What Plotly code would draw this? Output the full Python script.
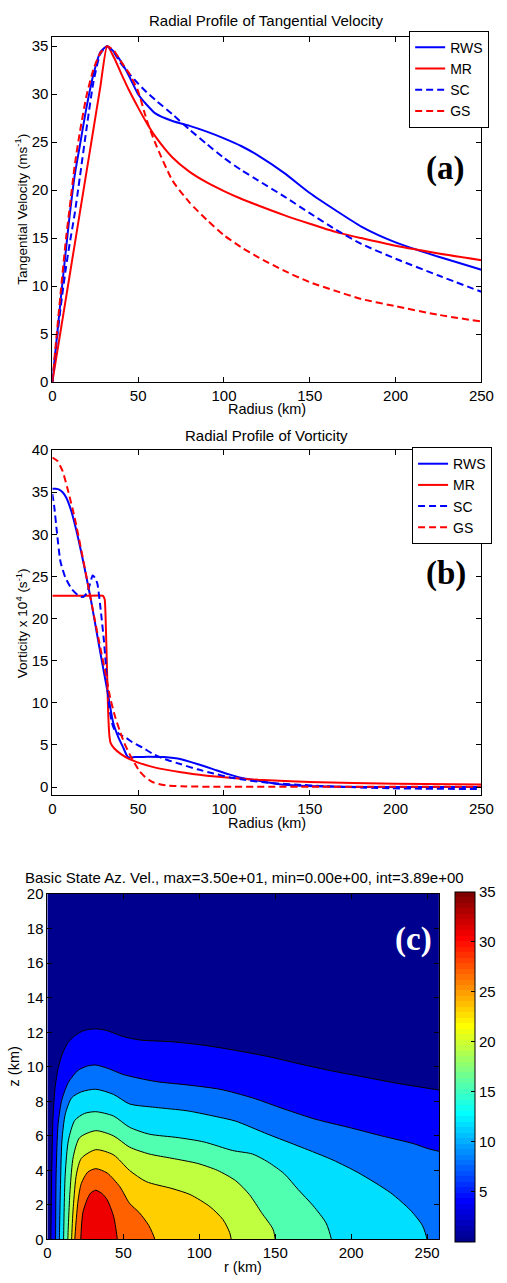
import plotly.graph_objects as go

W, H = 507, 1283

# ---------------- Panel (a): tangential velocity ----------------
r_a = [0, 2, 5, 8, 10, 13, 16, 20, 24, 28, 32, 36, 40, 45, 50, 55, 60, 70, 80, 90,
       100, 110, 120, 135, 150, 165, 180, 200, 225, 250]
v_rws = [0, 3.5, 8.8, 13.9, 17.2, 21.5, 24.6, 28.7, 32.1, 34.4, 35.0, 34.4, 33.4, 31.8, 30.0,
         28.9, 28.0, 27.2, 26.7, 26.1, 25.4, 24.6, 23.6, 21.8, 19.7, 17.9, 16.2, 14.55, 13.05, 11.7]
v_mr = [0, 2.2, 5.5, 8.8, 11.0, 14.3, 17.6, 22.0, 26.4, 30.8, 35.0, 33.8, 32.2, 30.3, 28.6,
        27.0, 25.6, 23.4, 21.9, 20.8, 19.9, 19.1, 18.4, 17.4, 16.5, 15.65, 15.0, 14.2, 13.4, 12.7]
v_sc = [0, 3.4, 8.0, 12.0, 14.3, 17.5, 21.3, 26.5, 31.3, 34.2, 35.0, 34.3, 33.2, 32.1, 31.1,
        30.2, 29.4, 27.9, 26.3, 24.8, 23.35, 22.1, 21.0, 19.35, 17.6, 15.9, 14.4, 12.85, 11.1, 9.4]
v_gs = [0, 3.9, 9.6, 15.0, 18.0, 22.5, 26.0, 29.9, 32.6, 34.3, 35.0, 34.5, 33.4, 32.1, 30.3,
        27.3, 24.9, 21.0, 18.7, 16.9, 15.3, 14.05, 13.0, 11.6, 10.4, 9.5, 8.65, 7.9, 7.0, 6.3]

# ---------------- Panel (b): vorticity (x 10^4 s^-1) ----------------
rws_b_r = [0, 2, 4, 6, 8, 11, 15, 19, 22.5, 26, 29, 32, 35.5, 38.5, 41.5, 44, 48, 56, 65, 75,
           85, 94, 103, 112, 120, 130, 140, 160, 200, 250]
rws_b_z = [35.4, 35.4, 35.3, 35.0, 34.4, 32.8, 29.6, 25.8, 22.2, 18.2, 14.8, 11.5, 7.6, 5.9,
           4.6, 3.55, 3.55, 3.6, 3.55, 3.3, 2.7, 2.1, 1.5, 1.0, 0.75, 0.4, 0.2, 0.05, 0.0, 0.0]
mr_b_r = [0, 10, 20, 29.5, 30.5, 31.2, 31.6, 32.1, 32.6, 33.2, 34, 36, 40, 45, 50, 60, 75, 90,
          100, 120, 150, 200, 250]
mr_b_z = [22.7, 22.7, 22.7, 22.7, 22.3, 19.0, 16.0, 12.0, 8.5, 6.2, 5.2, 4.6, 3.9, 3.3, 2.9,
          2.3, 1.75, 1.35, 1.15, 0.85, 0.6, 0.4, 0.3]
sc_b_r = [0, 1, 2.8, 4.7, 7.5, 11.3, 15, 17.8, 20, 21.5, 23.5, 25, 26.3, 28.2, 30, 31, 32, 33,
          34.5, 36, 39, 43.2, 47.5, 52.5, 58, 65.7, 75, 84.5, 94, 103, 112, 122, 131, 141, 160,
          197, 250]
sc_b_z = [34.8, 33.5, 30.0, 26.8, 24.9, 23.5, 22.75, 22.55, 23.0, 23.8, 25.1, 24.8, 24.1, 21.0,
          17.5, 15.0, 12.2, 9.8, 7.8, 6.9, 6.3, 5.8, 5.2, 4.7, 4.0, 3.3, 2.7, 2.1, 1.6, 1.17,
          0.85, 0.58, 0.42, 0.3, 0.08, -0.15, -0.25]
gs_b_r = [0, 3, 6, 9.4, 13, 17, 20.7, 24.4, 28.2, 31, 33.8, 36.5, 39.4, 42, 45, 48, 50.7, 54,
          58.2, 62, 66, 75, 100, 150, 250]
gs_b_z = [39.1, 38.7, 37.5, 35.0, 32.0, 28.0, 24.1, 20.2, 16.3, 13.5, 10.5, 8.4, 6.6, 5.2, 3.9,
          2.8, 1.9, 1.2, 0.6, 0.35, 0.2, 0.08, 0.03, 0.02, 0.02]

# ---------------- Panel (c): contour lines of azimuthal velocity ----------------
levels = [3.89, 7.78, 11.67, 15.56, 19.44, 23.33, 27.22, 31.11]
c1_r = [2.0, 2.2, 2.8, 3.6, 5.0, 7.0, 10.0, 13.5, 18, 24, 31.8, 39, 50, 61, 82, 103, 124, 145,
        167, 188, 209, 230, 251, 258, 262, 262]
c1_z = [-1, 0, 4.0, 7.0, 8.8, 9.9, 10.8, 11.4, 11.8, 12.1, 12.2, 12.1, 11.75, 11.55, 11.45,
        11.25, 10.95, 10.6, 10.15, 9.75, 9.4, 9.05, 8.75, 8.65, 8.6, -1]
c2_r = [5.2, 5.3, 5.7, 7.0, 9.5, 13.8, 20.2, 26.5, 31.8, 40, 50, 71, 92, 113.5, 135, 156, 177,
        198, 220, 241, 251, 258, 262, 262]
c2_z = [-1, 0, 3.8, 6.7, 8.1, 9.1, 9.8, 10.05, 10.1, 9.9, 9.55, 9.15, 8.95, 8.7, 8.2, 7.55,
        6.95, 6.5, 6.0, 5.55, 5.25, 5.1, 5.0, -1]
c3_r = [7.8, 7.85, 8.5, 9.5, 11.7, 15.9, 22.3, 31.8, 43.5, 54, 71, 92, 113.5, 124, 145, 167,
        188, 205, 226, 239, 247, 250, 251]
c3_z = [-1, 0, 2.9, 5.7, 7.25, 8.2, 8.55, 8.7, 8.4, 7.85, 7.65, 7.45, 7.07, 6.85, 6.1, 5.35,
        4.6, 3.85, 2.7, 1.7, 0.8, 0, -1]
c4_r = [10.5, 10.6, 11.7, 13.8, 18, 24.4, 31.8, 43.5, 54, 67, 86, 103, 122, 135, 145, 156, 165,
        175, 183.5, 187, 188]
c4_z = [-1, 0, 3.8, 5.75, 6.9, 7.3, 7.4, 7.15, 6.5, 6.1, 5.9, 5.65, 5.15, 4.95, 4.5, 3.8, 2.9,
        1.95, 0.95, 0, -1]
c5_r = [13.3, 13.4, 14.9, 17, 21.2, 31.8, 43.5, 54, 67, 82, 99, 112, 124, 133, 141, 148.5, 150,
        151]
c5_z = [-1, 0, 2.9, 4.8, 5.9, 6.3, 6.0, 5.35, 4.95, 4.7, 4.4, 4.0, 3.4, 2.6, 1.55, 0.6, 0, -1]
c6_r = [15.8, 15.9, 17, 19.1, 22.3, 31.8, 43.5, 54, 65, 82, 94, 107, 115.6, 120, 121, 122]
c6_z = [-1, 0, 1.9, 3.8, 4.7, 5.2, 4.9, 4.0, 3.35, 2.95, 2.6, 1.9, 1.15, 0.4, 0, -1]
c7_r = [17.9, 18, 20.2, 22.3, 26.5, 31.8, 39.3, 47.7, 54, 60.5, 66.8, 70.7, 71.5]
c7_z = [-1, 0, 2.3, 3.25, 3.9, 4.1, 3.85, 3.05, 2.1, 1.55, 0.8, 0, -1]
c8_r = [21.8, 21.9, 23.3, 26.5, 28.6, 31.8, 36, 39.3, 43.5, 46, 46.5]
c8_z = [-1, 0, 1.55, 2.4, 2.7, 2.85, 2.65, 2.3, 1.35, 0, -1]

contour_lines = [(c1_r, c1_z), (c2_r, c2_z), (c3_r, c3_z), (c4_r, c4_z),
                 (c5_r, c5_z), (c6_r, c6_z), (c7_r, c7_z), (c8_r, c8_z)]
vmin, vmax = 0.0, 35.0


# MATLAB jet(64) colormap
def jet64():
    m, n = 64, 16
    u = [(i + 1) / n for i in range(n)] + [1.0] * (n - 1) + [(n - i) / n for i in range(n)]
    g0 = n // 2
    cols = [[0.0, 0.0, 0.0] for _ in range(m)]
    for j in range(len(u)):
        gi = g0 + j + 1
        for idx, off in ((1, 0), (0, n), (2, -n)):
            k = gi + off
            if 1 <= k <= m:
                cols[k - 1][idx] = u[j]
    return cols


JET = jet64()


def jet_at(v):
    k = int((v - vmin) / (vmax - vmin) * 64)
    k = max(0, min(63, k))
    c = JET[k]
    return "rgb(%d,%d,%d)" % tuple(round(255 * x) for x in c)


jet_scale = []
for i, c in enumerate(JET):
    col = "rgb(%d,%d,%d)" % tuple(round(255 * x) for x in c)
    jet_scale.append([i / 64, col])
    jet_scale.append([(i + 1) / 64, col])

FONT = "Liberation Sans, Arial, Helvetica, sans-serif"
SERIF = "Liberation Serif, Times New Roman, serif"
BLUE, RED = "#0000FF", "#FF0000"
DASH = "7px,4px"
TICK = 15

fig = go.Figure()

series_a = [("RWS", v_rws, BLUE, "solid"), ("MR", v_mr, RED, "solid"),
            ("SC", v_sc, BLUE, DASH), ("GS", v_gs, RED, DASH)]
for name, vals, col, dash in series_a:
    fig.add_trace(go.Scatter(x=r_a, y=vals, name=name, mode="lines",
                             line=dict(color=col, width=2, dash=dash, shape="spline", smoothing=0.6),
                             xaxis="x", yaxis="y", legend="legend"))

series_b = [("RWS", rws_b_r, rws_b_z, BLUE, "solid"), ("MR", mr_b_r, mr_b_z, RED, "solid"),
            ("SC", sc_b_r, sc_b_z, BLUE, DASH), ("GS", gs_b_r, gs_b_z, RED, DASH)]
for name, rr, zz, col, dash in series_b:
    fig.add_trace(go.Scatter(x=rr, y=zz, name=name, mode="lines",
                             line=dict(color=col, width=2, dash=dash, shape="spline", smoothing=0.5),
                             xaxis="x2", yaxis="y2", legend="legend2"))

for lev, (rr, zz) in zip(levels, contour_lines):
    fig.add_trace(go.Scatter(x=rr, y=zz, mode="lines", fill="toself", fillcolor=jet_at(lev),
                             line=dict(color="black", width=1, shape="spline", smoothing=0.7),
                             xaxis="x3", yaxis="y3", showlegend=False, hoverinfo="skip"))

# colorbar carrier
cbar = dict(x=467 / W, xanchor="left", y=1 - 1072 / H, yanchor="middle", len=350,
            lenmode="pixels", thickness=20, thicknessmode="pixels", outlinecolor="black",
            outlinewidth=1, xpad=0, ypad=0, tickvals=[5, 10, 15, 20, 25, 30, 35],
            ticks="inside", ticklen=4, tickcolor="black",
            tickfont=dict(family=FONT, size=TICK, color="black"))
fig.add_trace(go.Scatter(x=[None], y=[None], mode="markers", xaxis="x3", yaxis="y3",
                         showlegend=False,
                         marker=dict(color=[vmin], cmin=vmin, cmax=vmax, colorscale=jet_scale,
                                     showscale=True, colorbar=cbar)))


def px_x(a, b):
    return [a / W, b / W]


def px_y(top, bottom):
    return [1 - bottom / H, 1 - top / H]


axis_common = dict(showline=True, linecolor="black", linewidth=1, mirror="ticks",
                   ticks="inside", ticklen=5, tickcolor="black", showgrid=False, zeroline=False,
                   tickfont=dict(family=FONT, size=TICK, color="black"))

legend_common = dict(xanchor="right", yanchor="top", bordercolor="black", borderwidth=1,
                     bgcolor="white", font=dict(family=FONT, size=14, color="black"),
                     itemwidth=30, tracegroupgap=0)

fig.update_layout(
    width=W, height=H, autosize=False,
    margin=dict(l=0, r=0, t=0, b=0),
    paper_bgcolor="white", plot_bgcolor="white",
    font=dict(family=FONT, size=13, color="black"),
    xaxis=dict(domain=px_x(50, 494), range=[0, 250], tickvals=[0, 50, 100, 150, 200, 250],
               anchor="y", **axis_common),
    yaxis=dict(domain=px_y(28, 378), range=[0, 36], tickvals=[0, 5, 10, 15, 20, 25, 30, 35],
               anchor="x", **axis_common),
    xaxis2=dict(domain=px_x(50, 494), range=[0, 250], tickvals=[0, 50, 100, 150, 200, 250],
                anchor="y2", **axis_common),
    yaxis2=dict(domain=px_y(447, 797), range=[-1, 40],
                tickvals=[0, 5, 10, 15, 20, 25, 30, 35, 40], anchor="x2", **axis_common),
    xaxis3=dict(domain=px_x(45, 450), range=[0, 257.8], tickvals=[0, 50, 100, 150, 200, 250],
                anchor="y3", **axis_common),
    yaxis3=dict(domain=px_y(897, 1247), range=[0, 20],
                tickvals=[0, 2, 4, 6, 8, 10, 12, 14, 16, 18, 20], anchor="x3", **axis_common),
    legend=dict(x=502 / W, y=1 - 22 / H, **legend_common),
    legend2=dict(x=505 / W, y=1 - 444 / H, **legend_common),
    showlegend=True,
)

fig.add_shape(type="rect", xref="x3 domain", yref="y3 domain", x0=0, x1=1, y0=0, y1=1,
              fillcolor=jet_at(0), line=dict(width=0), layer="below")


def ann(text, x, y, size=15, angle=0, color="black", family=FONT):
    fig.add_annotation(text=text, x=x / W, y=1 - y / H, xref="paper", yref="paper",
                       showarrow=False, textangle=angle, xanchor="center", yanchor="middle",
                       font=dict(family=family, size=size, color=color))


ann("Radial Profile of Tangential Velocity", 272, 12)
ann("Radius (km)", 272, 405, size=14.5)
ann("Tangential Velocity (ms<sup>-1</sup>)", 18, 203, size=13.5, angle=-90)
ann("Radial Profile of Vorticity", 272, 432)
ann("Radius (km)", 272, 825, size=14.5)
ann("Vorticity x 10<sup>4</sup> (s<sup>-1</sup>)", 18, 622, size=13.5, angle=-90)
ann("Basic State Az. Vel., max=3.50e+01, min=0.00e+00, int=3.89e+00", 249, 880)
ann("r (km)", 247, 1275, size=14.5)
ann("z (km)", 10, 1072, size=14.5, angle=-90)
ann("<b>(a)</b>", 456, 162, size=33, family=SERIF)
ann("<b>(b)</b>", 457, 572, size=33, family=SERIF)
ann("<b>(c)</b>", 424, 943, size=33, family=SERIF, color="white")

fig.write_html("out.html", config={"displayModeBar": False},
               post_script="document.body.style.margin='0';document.body.style.overflow='hidden';")
